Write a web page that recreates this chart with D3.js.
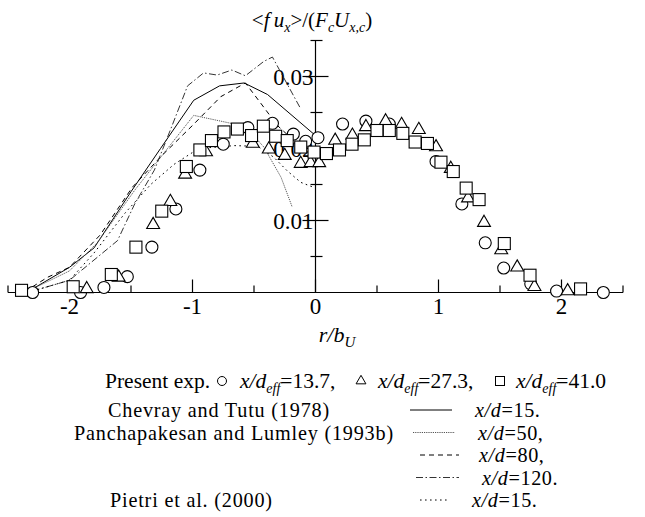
<!DOCTYPE html>
<html>
<head>
<meta charset="utf-8">
<script src="https://cdn.jsdelivr.net/npm/d3@7"></script>
<style>
  body { margin: 0; background: #fff; }
  text { font-family: "Liberation Serif", "Times New Roman", Times, serif; fill: #000; }
</style>
</head>
<body>
<svg id="chart" width="645" height="517" font-family="Liberation Serif, Times New Roman, Times, serif"></svg>
<script>
// Radial profiles of the scalar flux <f u_x>/(F_c U_x,c) versus r/b_U

// axis ticks
const xTickValues = [-2, -1, 0, 1, 2];
const yTickValues = [0.01, 0.02, 0.03];
const yTickLabels = ["0.01", "0.02", "0.03"];

// present experiment, x/d_eff = 13.7 (circles)
const expCircle = [
  [-2.30, 0.0000], [-1.91, 0.0000], [-1.72, 0.0007], [-1.53, 0.0022], [-1.33, 0.0063],
  [-1.135, 0.0116], [-0.94, 0.0170], [-0.75, 0.0206], [-0.55, 0.0229], [-0.35, 0.0235],
  [-0.18, 0.0220], [-0.08, 0.0210], [0.02, 0.0215], [0.22, 0.0234], [0.41, 0.0238],
  [0.60, 0.0234], [0.98, 0.0182], [1.19, 0.0123], [1.38, 0.0069], [1.53, 0.0034],
  [1.75, 0.0012], [1.96, 0.0002], [2.34, 0.0000]
];
// present experiment, x/d_eff = 27.3 (triangles)
const expTriangle = [
  [-1.86, 0.0005], [-1.60, 0.0021], [-1.32, 0.0094], [-1.18, 0.0126], [-1.06, 0.0164],
  [-0.89, 0.0195], [-0.51, 0.0207], [-0.38, 0.0199], [-0.25, 0.0190], [-0.12, 0.0179],
  [-0.04, 0.0180], [0.03, 0.0180], [0.16, 0.0211], [0.30, 0.0218], [0.41, 0.0230],
  [0.57, 0.0238], [0.70, 0.0233], [0.84, 0.0226], [0.98, 0.0202], [1.10, 0.0172],
  [1.24, 0.0131], [1.37, 0.0097], [1.51, 0.0059], [1.64, 0.0035], [1.78, 0.0008],
  [2.05, 0.0002]
];
// present experiment, x/d_eff = 41.0 (squares)
const expSquare = [
  [-2.39, 0.0003], [-1.97, 0.0008], [-1.66, 0.0025], [-1.46, 0.0063], [-1.25, 0.0113],
  [-1.05, 0.0175], [-0.94, 0.0198], [-0.846, 0.0211], [-0.744, 0.0223], [-0.635, 0.0227],
  [-0.52, 0.0218], [-0.424, 0.0231], [-0.324, 0.0217], [-0.23, 0.0211], [-0.12, 0.0202],
  [-0.012, 0.0195], [0.089, 0.0193], [0.195, 0.0198], [0.297, 0.0206], [0.397, 0.0212],
  [0.50, 0.0225], [0.60, 0.0225], [0.71, 0.0221], [0.81, 0.0209], [0.91, 0.0207],
  [1.02, 0.0181], [1.12, 0.0168], [1.225, 0.0145], [1.33, 0.0129], [1.535, 0.0068],
  [1.744, 0.0024], [2.155, 0.0005]
];

// reference profiles
const chevray15 = [
  [-2.30, 0.0005], [-2.00, 0.0035], [-1.80, 0.0062], [-1.50, 0.0140], [-1.26, 0.0200],
  [-0.99, 0.0267], [-0.78, 0.0287], [-0.58, 0.0291], [-0.39, 0.0275], [0.00, 0.0218]
];
const panch50 = [
  [-2.30, 0.0005], [-2.00, 0.0030], [-1.77, 0.0070], [-1.47, 0.0142], [-1.30, 0.0179],
  [-0.99, 0.0246], [-0.66, 0.0234], [-0.55, 0.0227], [-0.42, 0.0202], [-0.28, 0.0160],
  [-0.19, 0.0119]
];
const panch80 = [
  [-2.30, 0.0008], [-2.18, 0.0021], [-2.00, 0.0035], [-1.75, 0.0080], [-1.49, 0.0146],
  [-1.25, 0.0190], [-1.00, 0.0232], [-0.77, 0.0272], [-0.57, 0.0291], [-0.45, 0.0264],
  [-0.31, 0.0232], [-0.12, 0.0202]
];
const panch120 = [
  [-2.30, 0.0002], [-2.00, 0.0017], [-1.61, 0.0072], [-1.47, 0.0123], [-1.31, 0.0170],
  [-1.17, 0.0230], [-1.04, 0.0287], [-0.91, 0.0305], [-0.80, 0.0302], [-0.68, 0.0309],
  [-0.57, 0.0301], [-0.42, 0.0321], [-0.35, 0.0327], [-0.12, 0.0255]
];
const pietri15 = [
  [-2.30, 0.0002], [-2.00, 0.0017], [-1.80, 0.0055], [-1.55, 0.0110], [-1.34, 0.0150],
  [-1.15, 0.0178], [-0.95, 0.0200], [-0.66, 0.0204], [-0.47, 0.0203], [-0.34, 0.0188],
  [-0.23, 0.0169], [-0.12, 0.0153], [0.00, 0.0145]
];

const styleSolid = { dash: null, color: "#000" };
const styleFine = { dash: "1.2,1", color: "#555" };
const styleDash = { dash: "5,4", color: "#000" };
const styleDashDot = { dash: "7,2.5,1.5,2.5", color: "#333" };
const styleDot = { dash: "1.6,3.4", color: "#000" };

const lineSeries = [
  { data: chevray15, s: styleSolid },
  { data: panch50, s: styleFine },
  { data: panch80, s: styleDash },
  { data: panch120, s: styleDashDot },
  { data: pietri15, s: styleDot }
];

const svg = d3.select("#chart");
svg.append("rect").attr("width", 645).attr("height", 517).attr("fill", "#fff");

const x = d3.scaleLinear().domain([-2.5, 2.5]).range([8, 623]);
const y = d3.scaleLinear().domain([0, 0.035]).range([292.5, 40.5]);

// writes a run of text pieces (italic / subscript) into one <text>
function rich(sel, parts, subSize, drop) {
  let shifted = false;
  parts.forEach(p => {
    const ts = sel.append("tspan").text(p.t);
    if (p.i) ts.attr("font-style", "italic");
    if (p.sub) {
      ts.attr("font-size", subSize);
      if (!shifted) { ts.attr("dy", drop); shifted = true; }
    } else if (shifted) {
      ts.attr("dy", -drop); shifted = false;
    }
  });
}

const g = svg.append("g");

// x axis: baseline with ticks pointing up
const x0 = y(0);
g.append("line").attr("x1", x(-2.5)).attr("x2", x(2.5)).attr("y1", x0).attr("y2", x0)
  .attr("stroke", "#000").attr("stroke-width", 1.2);
d3.range(-2.5, 2.51, 0.5).forEach(v => {
  const major = Math.abs(v - Math.round(v)) < 1e-6;
  g.append("line").attr("x1", x(v)).attr("x2", x(v)).attr("y1", x0).attr("y2", x0 - (major ? 13 : 7))
    .attr("stroke", "#000").attr("stroke-width", 1.2);
});
g.selectAll(".xl").data(xTickValues).enter().append("text")
  .attr("x", d => x(d)).attr("y", 314).attr("text-anchor", "middle")
  .attr("font-size", 23).text(d => String(d));

// y axis through r = 0
const y0x = x(0);
g.append("line").attr("x1", y0x).attr("x2", y0x).attr("y1", y(0)).attr("y2", y(0.035))
  .attr("stroke", "#000").attr("stroke-width", 1.2);
d3.range(0.005, 0.0351, 0.005).forEach(v => {
  const major = Math.abs(v * 100 - Math.round(v * 100)) < 1e-6;
  g.append("line").attr("x1", y0x - (major ? 13 : 5)).attr("x2", y0x + (major ? 13 : 7))
    .attr("y1", y(v)).attr("y2", y(v)).attr("stroke", "#000").attr("stroke-width", 1.2);
});
g.selectAll(".yl").data(yTickValues).enter().append("text")
  .attr("x", y0x - 2).attr("y", d => y(d) + 8).attr("text-anchor", "end")
  .attr("font-size", 23).text((d, i) => yTickLabels[i]);

// axis titles
rich(g.append("text").attr("x", 312).attr("y", 27).attr("text-anchor", "middle").attr("font-size", 21), [
  { t: "<" }, { t: "f\u2009u", i: true }, { t: "x", i: true, sub: true }, { t: ">/(" },
  { t: "F", i: true }, { t: "c", i: true, sub: true }, { t: "U", i: true },
  { t: "x,c", i: true, sub: true }, { t: ")" }
], 14, 5);
rich(g.append("text").attr("x", 337).attr("y", 342).attr("text-anchor", "middle").attr("font-size", 22), [
  { t: "r/b", i: true }, { t: "U", i: true, sub: true }
], 15, 5);

// reference profiles
const line = d3.line().x(d => x(d[0])).y(d => y(d[1]));
lineSeries.forEach(l => {
  g.append("path").datum(l.data).attr("d", line).attr("fill", "none")
    .attr("stroke", l.s.color).attr("stroke-width", 1)
    .attr("stroke-dasharray", l.s.dash);
});

// experimental markers (white-filled, drawn on top)
const mk = g.append("g").attr("fill", "#fff").attr("stroke", "#000").attr("stroke-width", 1.1);
mk.selectAll(".c").data(expCircle).enter().append("circle")
  .attr("cx", d => x(d[0])).attr("cy", d => y(d[1])).attr("r", 6);
const tri = d3.symbol().type(d3.symbolTriangle).size(72);
mk.selectAll(".t").data(expTriangle).enter().append("path")
  .attr("d", tri).attr("transform", d => `translate(${x(d[0])},${y(d[1])})`);
mk.selectAll(".s").data(expSquare).enter().append("rect")
  .attr("x", d => x(d[0]) - 6).attr("y", d => y(d[1]) - 6)
  .attr("width", 12).attr("height", 12);

// legend: present experiment
const lg = svg.append("g");
const row1 = 388;
lg.append("text").attr("x", 105).attr("y", row1).attr("font-size", 21.5).text("Present exp.");
const ls = lg.append("g").attr("fill", "#fff").attr("stroke", "#000").attr("stroke-width", 1);
ls.append("circle").attr("cx", 222).attr("cy", row1 - 7).attr("r", 4.5);
ls.append("path").attr("d", d3.symbol().type(d3.symbolTriangle).size(42))
  .attr("transform", `translate(361,${row1 - 7})`);
ls.append("rect").attr("x", 495.5).attr("y", row1 - 11.5).attr("width", 9).attr("height", 9);
[[240, "13.7,"], [378, "27.3,"], [516, "41.0"]].forEach(([px, v]) => {
  rich(lg.append("text").attr("x", px).attr("y", row1).attr("font-size", 21.5), [
    { t: "x/d", i: true }, { t: "eff", i: true, sub: true }, { t: "=" + v }
  ], 14, 5);
});

// legend: reference data
const refRows = [
  { label: "Chevray and Tutu (1978)", lx: 108, y: 417, s: styleSolid, x1: 410, x2: 452, tx: 475, v: "15." },
  { label: "Panchapakesan and Lumley (1993b)", lx: 74, y: 439.5, s: styleFine, x1: 413, x2: 455, tx: 478, v: "50," },
  { label: "", lx: 0, y: 462, s: styleDash, x1: 420, x2: 459, tx: 479, v: "80," },
  { label: "", lx: 0, y: 484.5, s: styleDashDot, x1: 416, x2: 459, tx: 482, v: "120." },
  { label: "Pietri et al. (2000)", lx: 110, y: 507, s: styleDot, x1: 420, x2: 450, tx: 472, v: "15." }
];
refRows.forEach(r => {
  if (r.label) lg.append("text").attr("x", r.lx).attr("y", r.y).attr("font-size", 20.2)
    .attr("letter-spacing", 0.8).text(r.label);
  lg.append("line").attr("x1", r.x1).attr("x2", r.x2).attr("y1", r.y - 7).attr("y2", r.y - 7)
    .attr("stroke", r.s.color).attr("stroke-width", 1).attr("stroke-dasharray", r.s.dash);
  rich(lg.append("text").attr("x", r.tx).attr("y", r.y).attr("font-size", 20.2).attr("letter-spacing", 0.6), [
    { t: "x/d", i: true }, { t: "=" + r.v }
  ], 14, 5);
});
</script>
</body>
</html>
